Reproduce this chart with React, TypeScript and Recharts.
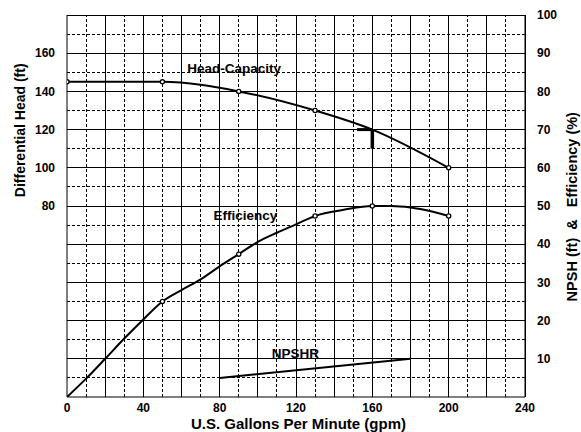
import React from 'react';
import { ComposedChart, Line, XAxis, YAxis, ReferenceLine, ReferenceDot } from 'recharts';

// ---- data ----
const gpmTicks = [0, 40, 80, 120, 160, 200, 240];
const headTicks = [80, 100, 120, 140, 160];
const pctTicks = [10, 20, 30, 40, 50, 60, 70, 80, 90, 100];
const xGridMinor = [10, 30, 50, 70, 90, 110, 130, 150, 170, 190, 210, 230];
const xGridMajor = [20, 40, 60, 80, 100, 120, 140, 160, 180, 200, 220];
const yGridMinor = [5, 15, 25, 35, 45, 55, 65, 75, 85, 95];
const yGridMajor = [10, 20, 30, 40, 50, 60, 70, 80, 90];

const headGpm = [0, 50, 90, 130, 160, 200];
const headFt = [145, 145, 140, 130, 120, 100];
const headMarked = [true, true, true, true, false, true];

const effGpm = [0, 10, 20, 30, 40, 50, 60, 70, 80, 90, 100, 110, 120, 130, 145, 160, 170, 180, 185, 200];
const effPct = [0, 4.8, 10, 15.3, 20.3, 25, 28, 30.8, 34.2, 37.4, 40.6, 43, 45.2, 47.4, 49, 50, 50, 49.6, 49.2, 47.4];
const effMarkedGpm = [50, 90, 130, 160, 200];

const npshGpm = [80, 180];
const npshFt = [5, 10];

const dutyGpm = 160;
const dutyHead = 120;
const dutyBarStartGpm = 152;
const dutyBarEndHead = 110;

const curveLabels = [
  { text: 'Head-Capacity', gpm: 87.6, pct: 86.2 },
  { text: 'Efficiency', gpm: 93.5, pct: 47.5 },
  { text: 'NPSHR', gpm: 119.7, pct: 11.4 },
];

const xTitle = 'U.S. Gallons Per Minute (gpm)';
const leftTitle = 'Differential Head (ft)';
const rightTitle = 'NPSH (ft)  &   Efficiency (%)';

// ---- tables ----
const headData = headGpm.map((g, i) => ({ gpm: g, head: headFt[i], mark: headMarked[i] }));
const effData = effGpm.map((g, i) => ({ gpm: g, eff: effPct[i], mark: effMarkedGpm.includes(g) }));
const npshData = npshGpm.map((g, i) => ({ gpm: g, npsh: npshFt[i] }));

const FONT = '"Liberation Sans", Arial, Helvetica, sans-serif';
const tickStyle = { fontSize: 12, fontWeight: 700, fill: '#000', fontFamily: FONT };
const labelStyle = { fontSize: 13.5, fontWeight: 700, fill: '#000', fontFamily: FONT };
const titleBase = { fontWeight: 700, fill: '#000', fontFamily: FONT };

const renderDot = (props: any) => {
  const { cx, cy, payload, index } = props;
  if (!payload || !payload.mark || cx == null || cy == null) return <g key={`d${index}`} />;
  return <circle key={`d${index}`} cx={cx} cy={cy} r={2.1} fill="#fff" stroke="#000" strokeWidth={1.3} />;
};

export default function App() {
  return (
    <div style={{ width: 581, height: 432, overflow: 'hidden', background: '#fff' }}>
      <style>{'html,body{margin:0;padding:0;overflow:hidden;}'}</style>
      <div style={{ position: 'relative', left: 8, top: 8, width: 573, height: 424 }}>
        <ComposedChart width={573} height={424} margin={{ top: 7, right: 0, bottom: 0, left: 0 }}>
          <XAxis
            type="number"
            dataKey="gpm"
            domain={[0, 240]}
            ticks={gpmTicks}
            interval={0}
            height={35}
            tickLine={false}
            tickSize={4}
            tick={tickStyle}
            axisLine={{ stroke: '#000', strokeWidth: 1 }}
            allowDataOverflow
          />
          <YAxis
            yAxisId="left"
            orientation="left"
            type="number"
            domain={[-20, 180]}
            ticks={headTicks}
            interval={0}
            width={59}
            tickLine={false}
            tickSize={10}
            tick={tickStyle}
            axisLine={{ stroke: '#000', strokeWidth: 1 }}
            allowDataOverflow
          />
          <YAxis
            yAxisId="right"
            orientation="right"
            type="number"
            domain={[0, 100]}
            ticks={pctTicks}
            interval={0}
            width={56}
            tickLine={false}
            tickSize={10}
            tick={{ ...tickStyle, textAnchor: 'start' }}
            axisLine={{ stroke: '#000', strokeWidth: 1 }}
            allowDataOverflow
          />

          {xGridMinor.map((v) => (
            <ReferenceLine key={`xm${v}`} x={v} yAxisId="right" stroke="#000" strokeWidth={1} strokeDasharray="3 2" shapeRendering="crispEdges" />
          ))}
          {yGridMinor.map((v) => (
            <ReferenceLine key={`ym${v}`} y={v} yAxisId="right" stroke="#000" strokeWidth={1} strokeDasharray="3 2" shapeRendering="crispEdges" />
          ))}
          {xGridMajor.map((v) => (
            <ReferenceLine key={`xM${v}`} x={v} yAxisId="right" stroke="#000" strokeWidth={1} shapeRendering="crispEdges" />
          ))}
          {yGridMajor.map((v) => (
            <ReferenceLine key={`yM${v}`} y={v} yAxisId="right" stroke="#000" strokeWidth={1} shapeRendering="crispEdges" />
          ))}
          <ReferenceLine y={100} yAxisId="right" stroke="#000" strokeWidth={1} shapeRendering="crispEdges" />
          <ReferenceLine x={240} yAxisId="right" stroke="#000" strokeWidth={1} shapeRendering="crispEdges" />

          <Line
            data={headData}
            dataKey="head"
            yAxisId="left"
            type="monotone"
            stroke="#000"
            strokeWidth={2}
            dot={renderDot}
            activeDot={false}
            isAnimationActive={false}
          />
          <Line
            data={effData}
            dataKey="eff"
            yAxisId="right"
            type="monotone"
            stroke="#000"
            strokeWidth={2}
            dot={renderDot}
            activeDot={false}
            isAnimationActive={false}
          />
          <Line
            data={npshData}
            dataKey="npsh"
            yAxisId="right"
            type="linear"
            stroke="#000"
            strokeWidth={2}
            dot={false}
            activeDot={false}
            isAnimationActive={false}
          />

          <ReferenceLine
            yAxisId="left"
            segment={[{ x: dutyBarStartGpm, y: dutyHead }, { x: dutyGpm, y: dutyHead }]}
            stroke="#000"
            strokeWidth={3}
          />
          <ReferenceLine
            yAxisId="left"
            segment={[{ x: dutyGpm, y: dutyHead }, { x: dutyGpm, y: dutyBarEndHead }]}
            stroke="#000"
            strokeWidth={3.5}
          />

          {curveLabels.map((l) => (
            <ReferenceDot
              key={l.text}
              x={l.gpm}
              y={l.pct}
              yAxisId="right"
              r={0}
              fill="none"
              stroke="none"
              label={{ value: l.text, position: 'center', style: labelStyle }}
            />
          ))}
        </ComposedChart>
        <svg
          width={573}
          height={424}
          style={{ position: 'absolute', left: 0, top: 0, pointerEvents: 'none', overflow: 'visible' }}
        >
          <text x={17} y={122.3} transform="rotate(-90 17 122.3)" textAnchor="middle" style={{ ...titleBase, fontSize: 14 }}>
            {leftTitle}
          </text>
          <text x={569.3} y={198.7} transform="rotate(-90 569.3 198.7)" textAnchor="middle" style={{ ...titleBase, fontSize: 14.5 }} xmlSpace="preserve">
            {rightTitle}
          </text>
          <text x={290.5} y={421} textAnchor="middle" style={{ ...titleBase, fontSize: 15 }}>
            {xTitle}
          </text>
        </svg>
      </div>
    </div>
  );
}
